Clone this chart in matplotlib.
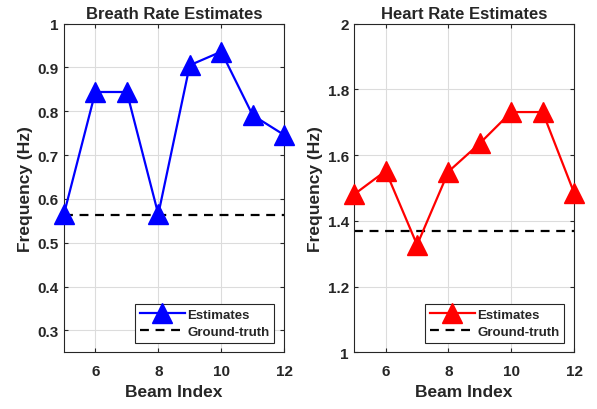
import matplotlib
matplotlib.use("Agg")
import matplotlib.pyplot as plt
from matplotlib.ticker import FuncFormatter

plt.rcParams['font.family'] = ['Liberation Sans', 'DejaVu Sans']
plt.rcParams['font.weight'] = 'bold'

beam_index = [5, 6, 7, 8, 9, 10, 11, 12]
breath_est = [0.565, 0.844, 0.844, 0.565, 0.905, 0.936, 0.791, 0.746]
breath_truth = 0.563
heart_est = [1.481, 1.552, 1.327, 1.55, 1.636, 1.731, 1.731, 1.486]
heart_truth = 1.370

breath_yticks = [0.3, 0.4, 0.5, 0.6, 0.7, 0.8, 0.9, 1.0]
heart_yticks = [1.0, 1.2, 1.4, 1.6, 1.8, 2.0]
xticks = [6, 8, 10, 12]

txt = '#262626'
ax_col = '#262626'


def fmt(v, pos):
    return ('%g' % round(v, 2))


def style(ax):
    ax.grid(True, color='#dcdcdc', linewidth=0.8)
    ax.set_axisbelow(True)
    for s in ax.spines.values():
        s.set_color(ax_col)
        s.set_linewidth(0.8)
    ax.tick_params(direction='in', length=3, width=0.8, colors=ax_col,
                   labelcolor=txt, labelsize=11, top=True, right=True,
                   labeltop=False, labelright=False)
    ax.tick_params(axis='x', pad=8)
    ax.tick_params(axis='y', pad=4)
    for lab in ax.get_xticklabels() + ax.get_yticklabels():
        lab.set_fontweight('bold')
    ax.yaxis.set_major_formatter(FuncFormatter(fmt))
    ax.set_xlabel('Beam Index', fontsize=12.5, fontweight='bold', color=txt, labelpad=5)
    ax.set_ylabel('Frequency (Hz)', fontsize=12.5, fontweight='bold', color=txt, labelpad=3)


fig = plt.figure(figsize=(5.97, 4.10), dpi=100)
ax1 = fig.add_axes([0.107, 0.138, 0.369, 0.802])
ax2 = fig.add_axes([0.5935, 0.138, 0.368, 0.802])

panels = [
    (ax1, breath_est, breath_truth, 'blue', 'Breath Rate Estimates', (0.25, 1.0), breath_yticks),
    (ax2, heart_est, heart_truth, 'red', 'Heart Rate Estimates', (1.0, 2.0), heart_yticks),
]

for ax, est, truth, col, title, ylim, yt in panels:
    ax.plot(beam_index, est, color=col, linewidth=1.6, marker='^',
            markersize=14, label='Estimates', clip_on=False, zorder=3)
    ax.axhline(truth, color='black', linestyle=(0, (4, 3)), linewidth=1.6,
               label='Ground-truth', zorder=2)
    ax.set_xlim(5, 12)
    ax.set_ylim(*ylim)
    ax.set_xticks(xticks)
    ax.set_yticks(yt)
    ax.set_title(title, fontsize=12, fontweight='bold', color=txt, pad=4)
    style(ax)
    leg = ax.legend(loc='lower right', frameon=True, fancybox=False,
                    edgecolor=ax_col, framealpha=1, borderpad=0.35,
                    handlelength=3.4, handletextpad=0.2, labelspacing=0.35,
                    borderaxespad=0.75, prop={'weight': 'bold', 'size': 9.5})
    leg.get_frame().set_linewidth(0.8)
    for t in leg.get_texts():
        t.set_color(txt)

fig.savefig('out.png', dpi=100)
